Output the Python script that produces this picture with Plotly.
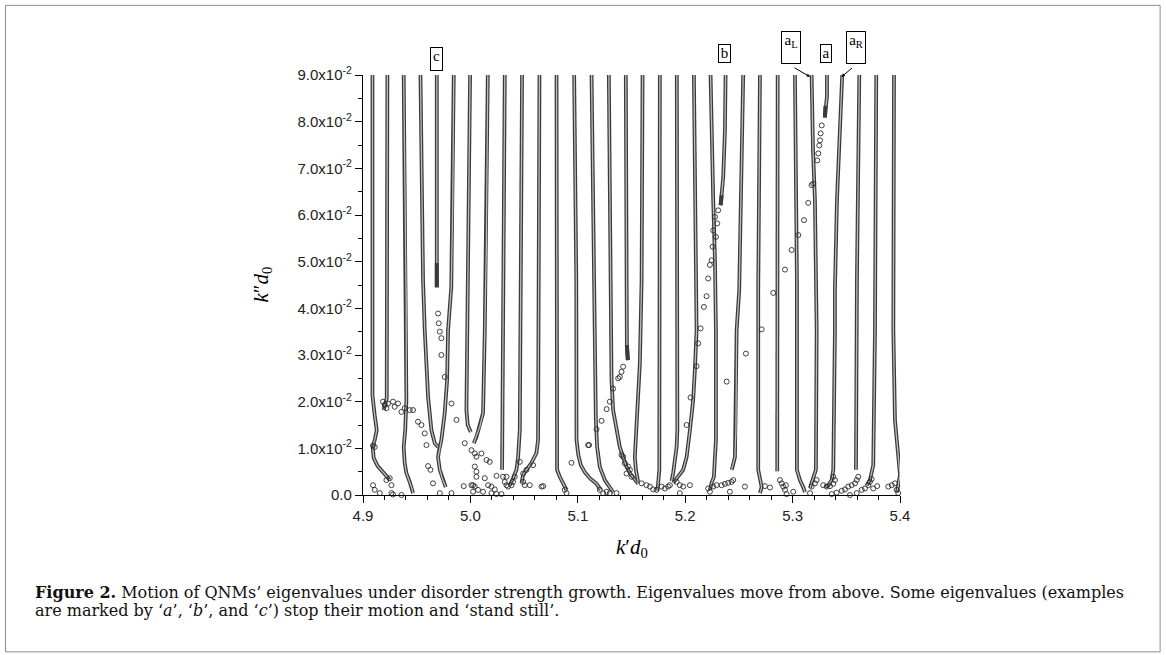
import plotly.graph_objects as go

# eigenvalue tracks: k'd0 (x) and k''d0 (y), top to bottom
track_x = [
    [4.9088, 4.9088, 4.9109, 4.9128, 4.9109, 4.9090, 4.9100, 4.9137, 4.9202, 4.9249],
    [4.9227, 4.9227, 4.9221, 4.9202, 4.9193],
    [4.9379, 4.9402, 4.9404, 4.9393, 4.9379, 4.9388, 4.9404, 4.9435, 4.9454, 4.9466],
    [4.9535, 4.9559, 4.9575, 4.9606, 4.9637, 4.9668, 4.9699],
    [4.9687, 4.9687],
    [4.9845, 4.9836, 4.9822, 4.9792, 4.9783, 4.9761, 4.9730, 4.9708, 4.9699, 4.9715, 4.9743, 4.9770],
    [4.9997, 4.9985, 4.9966, 4.9963, 4.9975, 5.0003],
    [5.0162, 5.0148, 5.0134, 5.0118, 5.0087, 5.0056, 5.0031],
    [5.0320, 5.0304, 5.0299, 5.0295],
    [5.0481, 5.0465, 5.0460, 5.0444, 5.0429, 5.0397, 5.0367],
    [5.0643, 5.0632, 5.0630, 5.0615, 5.0569, 5.0522, 5.0491, 5.0476],
    [5.0802, 5.0807, 5.0807, 5.0832, 5.0863, 5.0895],
    [5.0966, 5.0986, 5.0988, 5.1005, 5.1028, 5.1065, 5.1112, 5.1174, 5.1214],
    [5.1128, 5.1149, 5.1168, 5.1180, 5.1205, 5.1252, 5.1329],
    [5.1289, 5.1305, 5.1314, 5.1329, 5.1361, 5.1391, 5.1422, 5.1454, 5.1485, 5.1531, 5.1562],
    [5.1447, 5.1454, 5.1457, 5.1466],
    [5.1603, 5.1594, 5.1578, 5.1562, 5.1547, 5.1531, 5.1541, 5.1562],
    [5.1764, 5.1764, 5.1759, 5.1745, 5.1736],
    [5.1922, 5.1927, 5.1927, 5.1920, 5.1904, 5.1888, 5.1873],
    [5.2081, 5.2099, 5.2106, 5.2090, 5.2074, 5.2044, 5.2013, 5.1981, 5.1935, 5.1888],
    [5.2236, 5.2249, 5.2261, 5.2277, 5.2286, 5.2286, 5.2277, 5.2267, 5.2246, 5.2230],
    [5.2376, 5.2370, 5.2354, 5.2339, 5.2330],
    [5.2540, 5.2519, 5.2503, 5.2479, 5.2472, 5.2463, 5.2441, 5.2432],
    [5.2696, 5.2680, 5.2680, 5.2696, 5.2712, 5.2696],
    [5.2861, 5.2857],
    [5.3022, 5.3040, 5.3040, 5.3068, 5.3099, 5.3115],
    [5.3177, 5.3190, 5.3208, 5.3224, 5.3217, 5.3192, 5.3177, 5.3162],
    [5.3320, 5.3320, 5.3306, 5.3301],
    [5.3462, 5.3441, 5.3413, 5.3394, 5.3394, 5.3379, 5.3364, 5.3332, 5.3301],
    [5.3621, 5.3599, 5.3590],
    [5.3779, 5.3767, 5.3751, 5.3720, 5.3690],
    [5.3944, 5.3938, 5.3953, 5.3981, 5.4000, 5.3972],
]
track_y = [
    [0.0900, 0.0214, 0.0171, 0.0139, 0.0118, 0.0103, 0.0079, 0.0062, 0.0045, 0.0032],
    [0.0900, 0.0246, 0.0208, 0.0191, 0.0182],
    [0.0900, 0.0418, 0.0203, 0.0139, 0.0103, 0.0069, 0.0047, 0.0028, 0.0015, 0.0004],
    [0.0900, 0.0460, 0.0353, 0.0210, 0.0139, 0.0111, 0.0103],
    [0.0900, 0.0445],
    [0.0900, 0.0632, 0.0445, 0.0353, 0.0246, 0.0176, 0.0118, 0.0096, 0.0081, 0.0054, 0.0032, 0.0017],
    [0.0900, 0.0632, 0.0353, 0.0182, 0.0150, 0.0135],
    [0.0900, 0.0525, 0.0353, 0.0176, 0.0146, 0.0124, 0.0111],
    [0.0900, 0.0460, 0.0203, 0.0054],
    [0.0900, 0.0460, 0.0139, 0.0081, 0.0054, 0.0036, 0.0021],
    [0.0900, 0.0460, 0.0118, 0.0090, 0.0069, 0.0054, 0.0043, 0.0026],
    [0.0900, 0.0418, 0.0054, 0.0039, 0.0026, 0.0011],
    [0.0900, 0.0460, 0.0118, 0.0086, 0.0064, 0.0049, 0.0036, 0.0024, 0.0011],
    [0.0900, 0.0460, 0.0161, 0.0103, 0.0060, 0.0032, 0.0006],
    [0.0900, 0.0460, 0.0246, 0.0182, 0.0139, 0.0103, 0.0081, 0.0060, 0.0047, 0.0034, 0.0024],
    [0.0900, 0.0460, 0.0321, 0.0289],
    [0.0900, 0.0460, 0.0283, 0.0203, 0.0139, 0.0081, 0.0054, 0.0028],
    [0.0900, 0.0460, 0.0054, 0.0017, 0.0009],
    [0.0900, 0.0460, 0.0139, 0.0103, 0.0069, 0.0047, 0.0030],
    [0.0900, 0.0460, 0.0353, 0.0268, 0.0203, 0.0139, 0.0081, 0.0054, 0.0039, 0.0026],
    [0.0900, 0.0739, 0.0632, 0.0503, 0.0353, 0.0118, 0.0064, 0.0039, 0.0026, 0.0011],
    [0.0900, 0.0782, 0.0681, 0.0642, 0.0621],
    [0.0900, 0.0632, 0.0439, 0.0353, 0.0139, 0.0081, 0.0060, 0.0054],
    [0.0900, 0.0439, 0.0054, 0.0032, 0.0017, 0.0004],
    [0.0900, 0.0051],
    [0.0900, 0.0460, 0.0054, 0.0032, 0.0017, 0.0006],
    [0.0900, 0.0739, 0.0632, 0.0353, 0.0054, 0.0039, 0.0026, 0.0015],
    [0.0900, 0.0854, 0.0824, 0.0809],
    [0.0900, 0.0782, 0.0632, 0.0439, 0.0353, 0.0054, 0.0032, 0.0021, 0.0017],
    [0.0900, 0.0460, 0.0054],
    [0.0900, 0.0353, 0.0064, 0.0032, 0.0021],
    [0.0900, 0.0353, 0.0161, 0.0086, 0.0043, 0.0006],
]

# where a mode stands still its circles pile up into a dark knot (c, T16, b, a)
knot_x = [[4.9687, 4.9687], [5.1457, 5.1466], [5.2339, 5.2330], [5.3306, 5.3301]]
knot_y = [[0.0497, 0.0445], [0.0321, 0.0289], [0.0642, 0.0621], [0.0834, 0.0809]]

# loose eigenvalues scattered between the tracks
loose_x = [
    4.9186, 4.9202, 4.9218, 4.9233, 4.9279, 4.9295, 4.9326, 4.9358, 4.9388, 4.9435,
    4.9466, 4.9512, 4.9544, 4.9575, 4.9591, 4.9606, 4.9628, 4.9652, 4.9093, 4.9109,
    4.9156, 4.9265, 4.9279, 4.9358, 4.9218, 4.9249, 4.9265, 4.9093, 4.9109,
    4.9699, 4.9705, 4.9715, 4.9730, 4.9730, 4.9761, 4.9824, 4.9870, 4.9947,
    4.9715, 4.9824, 4.9938, 5.0010, 5.0025, 5.0010, 5.0041, 5.0056, 5.0103, 5.0150,
    5.0180, 5.0041, 5.0056, 5.0025, 5.0041, 5.0071, 5.0118, 5.0165, 5.0196, 5.0227,
    5.0196, 5.0243, 5.0289, 5.0243, 5.0304, 5.0320, 5.0336, 5.0351, 5.0383, 5.0397,
    5.0413, 5.0491, 5.0506, 5.0553, 5.0662, 5.0677, 5.0460, 5.0584, 5.0941, 5.1096,
    5.0879, 5.0895, 5.0056, 5.0134, 5.0336, 5.0491, 5.0522,
    5.1422, 5.1407, 5.1391, 5.1376, 5.1329, 5.1298, 5.1268, 5.1221, 5.1174, 5.1105,
    5.1407, 5.1422, 5.1438, 5.1469, 5.1485, 5.1454, 5.1500, 5.1594, 5.1640, 5.1671,
    5.1702, 5.1733, 5.1780, 5.1811, 5.1841, 5.1857, 5.1920, 5.1950, 5.1981, 5.1205,
    5.1236, 5.1268, 5.1298, 5.1361, 5.1950,
    5.2307, 5.2277, 5.2298, 5.2261, 5.2286, 5.2255, 5.2246, 5.2230, 5.2214, 5.2199,
    5.2174, 5.2143, 5.2121, 5.2106, 5.2050, 5.2013,
    5.3271, 5.3261, 5.3255, 5.3248, 5.3239, 5.3230, 5.3192, 5.3177, 5.3146, 5.3106,
    5.3053, 5.2991, 5.2929, 5.2820, 5.2712, 5.2565, 5.2386,
    5.2044, 5.2214, 5.2230, 5.2261, 5.2292, 5.2339, 5.2370, 5.2400, 5.2432, 5.2447,
    5.2416, 5.2556, 5.2742, 5.2789, 5.2882, 5.2898, 5.2913, 5.2929, 5.2944, 5.2938,
    5.3006,
    5.3162, 5.3177, 5.3208, 5.3224, 5.3285, 5.3317, 5.3348, 5.3379, 5.3394, 5.3379,
    5.3364, 5.3410, 5.3457, 5.3488, 5.3518, 5.3550, 5.3581, 5.3597, 5.3611, 5.3534,
    5.3597, 5.3643, 5.3674, 5.3705, 5.3720, 5.3736, 5.3751, 5.3788, 5.3891, 5.3923,
    5.3953, 5.3969, 5.3984,
]
loose_y = [
    0.0200, 0.0193, 0.0186, 0.0196, 0.0200, 0.0189, 0.0196, 0.0178, 0.0186, 0.0182,
    0.0182, 0.0157, 0.0150, 0.0132, 0.0107, 0.0062, 0.0054, 0.0025, 0.0021, 0.0011,
    0.0004, 0.0004, 0.0001, 0.0000, 0.0032, 0.0036, 0.0021, 0.0106, 0.0103,
    0.0389, 0.0368, 0.0350, 0.0336, 0.0300, 0.0253, 0.0196, 0.0161, 0.0111,
    0.0004, 0.0004, 0.0019, 0.0021, 0.0007, 0.0096, 0.0089, 0.0082, 0.0089, 0.0075,
    0.0071, 0.0061, 0.0039, 0.0021, 0.0018, 0.0011, 0.0007, 0.0021, 0.0018, 0.0012,
    0.0004, 0.0002, 0.0002, 0.0041, 0.0039, 0.0028, 0.0021, 0.0018, 0.0021, 0.0028,
    0.0039, 0.0028, 0.0021, 0.0021, 0.0018, 0.0019, 0.0071, 0.0064, 0.0069, 0.0107,
    0.0011, 0.0004, 0.0050, 0.0036, 0.0039, 0.0046, 0.0054,
    0.0275, 0.0264, 0.0253, 0.0250, 0.0228, 0.0200, 0.0184, 0.0159, 0.0141, 0.0107,
    0.0086, 0.0082, 0.0068, 0.0061, 0.0054, 0.0046, 0.0039, 0.0025, 0.0021, 0.0018,
    0.0012, 0.0011, 0.0018, 0.0014, 0.0018, 0.0021, 0.0028, 0.0021, 0.0018, 0.0011,
    0.0004, 0.0007, 0.0004, 0.0004, 0.0004,
    0.0610, 0.0596, 0.0582, 0.0567, 0.0553, 0.0532, 0.0503, 0.0493, 0.0464, 0.0426,
    0.0403, 0.0357, 0.0325, 0.0276, 0.0209, 0.0150,
    0.0792, 0.0775, 0.0760, 0.0749, 0.0732, 0.0717, 0.0667, 0.0664, 0.0626, 0.0589,
    0.0557, 0.0525, 0.0483, 0.0433, 0.0355, 0.0303, 0.0243,
    0.0021, 0.0014, 0.0007, 0.0018, 0.0021, 0.0021, 0.0024, 0.0026, 0.0028, 0.0032,
    0.0007, 0.0018, 0.0019, 0.0016, 0.0032, 0.0025, 0.0018, 0.0011, 0.0002, 0.0021,
    0.0007,
    0.0004, 0.0018, 0.0025, 0.0032, 0.0021, 0.0018, 0.0019, 0.0024, 0.0032, 0.0039,
    0.0002, 0.0005, 0.0009, 0.0012, 0.0018, 0.0021, 0.0025, 0.0032, 0.0039, 0.0000,
    0.0004, 0.0011, 0.0014, 0.0021, 0.0028, 0.0034, 0.0014, 0.0019, 0.0018, 0.0021,
    0.0025, 0.0011, 0.0004,
]

y_ticks = [0.0, 0.01, 0.02, 0.03, 0.04, 0.05, 0.06, 0.07, 0.08, 0.09]
y_ticktext = ["0.0"] + [f"{v * 100:.1f}x10<sup>-2</sup>" for v in y_ticks[1:]]
x_ticks = [4.9, 5.0, 5.1, 5.2, 5.3, 5.4]

# mode labels above the tracks: (text, k'd0)
mode_labels = [("c", 4.9687), ("b", 5.2370), ("a<sub>L</sub>", 5.2983), ("a", 5.3308), ("a<sub>R</sub>", 5.3588)]

caption_1 = ("<b>Figure 2.</b> Motion of QNMs\u2019 eigenvalues under disorder strength growth. "
             "Eigenvalues move from above. Some eigenvalues (examples")
caption_2 = ("are marked by \u2018<i>a</i>\u2019, \u2018<i>b</i>\u2019, and \u2018<i>c</i>\u2019) "
             "stop their motion and \u2018stand still\u2019.")

INK = "#2b2b2b"
SERIF = "Liberation Serif, Times New Roman, serif"

fig = go.Figure()

# each track is a dense chain of hollow circles: dark rail with a light core
for xs, ys in zip(track_x, track_y):
    fig.add_trace(go.Scatter(
        x=xs, y=ys, mode="lines",
        line=dict(color="#3a3a3a", width=3.8),
        hoverinfo="skip", showlegend=False))
    fig.add_trace(go.Scatter(
        x=xs, y=ys, mode="lines",
        line=dict(color="#bdbdbd", width=1.3),
        hoverinfo="skip", showlegend=False))

for xs, ys in zip(knot_x, knot_y):
    fig.add_trace(go.Scatter(
        x=xs, y=ys, mode="lines",
        line=dict(color="#3a3a3a", width=4.0),
        hoverinfo="skip", showlegend=False))

fig.add_trace(go.Scatter(
    x=loose_x, y=loose_y, mode="markers",
    marker=dict(symbol="circle-open", size=5, color=INK, line=dict(width=0.9)),
    cliponaxis=False, showlegend=False))

axis_common = dict(
    showline=True, linecolor="black", linewidth=1.3,
    ticks="outside", ticklen=7, tickwidth=1.3, tickcolor="black",
    showgrid=False, zeroline=False,
    tickfont=dict(family="Liberation Sans, Arial", size=15, color="#222"),
)

fig.update_xaxes(
    range=[4.9, 5.4], tickvals=x_ticks, ticktext=[f"{v:.1f}" for v in x_ticks],
    minor=dict(ticks="outside", ticklen=4, tickwidth=1.1, tickcolor="black", dtick=0.02, tick0=4.9),
    **axis_common)
fig.update_yaxes(
    range=[0, 0.09], tickvals=y_ticks, ticktext=y_ticktext,
    minor=dict(ticks="outside", ticklen=4, tickwidth=1.1, tickcolor="black", dtick=0.005, tick0=0),
    **axis_common)

annotations = []
box_geom = {"c": (1.037, 11, 22), "b": (1.050, 11, 17), "a": (1.050, 10, 17)}
for text, xv in mode_labels:
    yv, w, h = box_geom.get(text, (1.066, 18, 31))
    annotations.append(dict(
        x=xv, y=yv, xref="x", yref="paper", text=text, showarrow=False,
        xanchor="center", yanchor="middle",
        font=dict(family=SERIF, size=15, color="black"),
        bordercolor="black", borderwidth=1, borderpad=0, bgcolor="white",
        width=w, height=h, valign="top"))

# little arrows pointing from the a_L / a_R boxes to their tracks
annotations.append(dict(x=5.3162, y=0.0896, xref="x", yref="y", text="", showarrow=True,
                        arrowhead=2, arrowsize=0.7, arrowwidth=1, arrowcolor="black", ax=-17, ay=-10))
annotations.append(dict(x=5.3455, y=0.0896, xref="x", yref="y", text="", showarrow=True,
                        arrowhead=2, arrowsize=0.7, arrowwidth=1, arrowcolor="black", ax=12, ay=-10))

annotations.append(dict(
    x=-0.189, y=0.5, xref="paper", yref="paper", text="<i>k</i>\u2033<i>d</i><sub>0</sub>",
    textangle=-90, showarrow=False, xanchor="center", yanchor="middle",
    font=dict(family=SERIF, size=21, color="black")))
annotations.append(dict(
    x=0.5, y=-0.126, xref="paper", yref="paper", text="<i>k</i>\u2032<i>d</i><sub>0</sub>",
    showarrow=False, xanchor="center", yanchor="middle",
    font=dict(family=SERIF, size=21, color="black")))
for i, cap in enumerate([caption_1, caption_2]):
    annotations.append(dict(
        x=-0.6154, y=-0.2333 - i * 0.0428, xref="paper", yref="paper", text=cap,
        showarrow=False, xanchor="left", yanchor="middle", align="left",
        font=dict(family="DejaVu Serif, serif", size=16, color="#111")))

fig.update_layout(
    width=1166, height=655,
    margin=dict(l=363, r=266, t=75, b=160),
    paper_bgcolor="white", plot_bgcolor="white",
    annotations=annotations,
    shapes=[dict(type="rect", xref="paper", yref="paper",
                 x0=-0.6657, x1=1.4844, y0=-0.3735, y1=1.1658,
                 line=dict(color="#8c8c8c", width=1))],
)

fig.write_html("out.html", config={"displayModeBar": False},
               post_script="document.body.style.margin = '0';")
